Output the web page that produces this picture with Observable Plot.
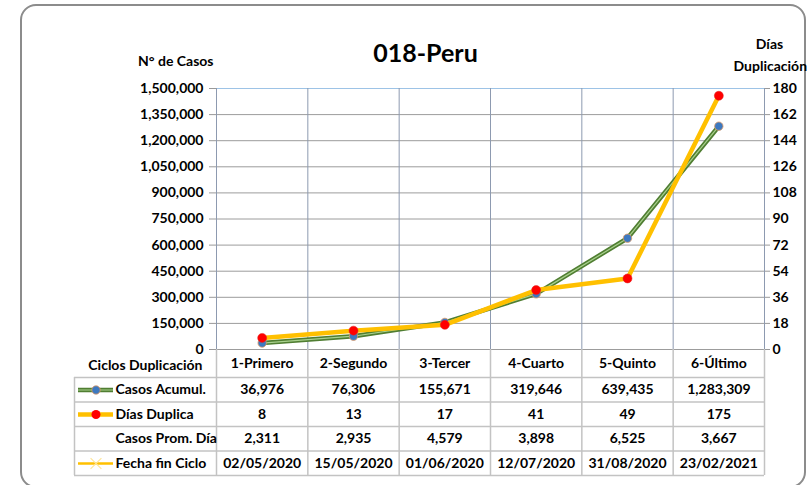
<!DOCTYPE html>
<html><head><meta charset="utf-8">
<script src="https://cdn.jsdelivr.net/npm/d3@7"></script>
<script src="https://cdn.jsdelivr.net/npm/@observablehq/plot@0.6"></script>
<style>
body{margin:0;background:#fff;}
#wrap{position:relative;width:810px;height:485px;overflow:hidden;}
#frame{position:absolute;left:20px;top:4px;width:782px;height:480px;border:2px solid #8c8c8c;border-radius:16px;}
#chart{position:absolute;left:0;top:0;}
#chart svg{overflow:visible;}
</style></head><body>
<div id="wrap"><div id="frame"></div><div id="chart"></div></div>
<script>
// ---- data ----
const categories = ["1-Primero","2-Segundo","3-Tercer","4-Cuarto","5-Quinto","6-Último"];
const casosAcumul = [36976, 76306, 155671, 319646, 639435, 1283309];
const diasDuplica = [8, 13, 17, 41, 49, 175];
const casosPromDia = [2311, 2935, 4579, 3898, 6525, 3667];
const fechaFinCiclo = ["02/05/2020","15/05/2020","01/06/2020","12/07/2020","31/08/2020","23/02/2021"];
const leftTicks = [0,150000,300000,450000,600000,750000,900000,1050000,1200000,1350000,1500000];
const rightTicks = [0,18,36,54,72,90,108,126,144,162,180];
const rowLabels = ["Casos Acumul.","Días Duplica","Casos Prom. Día","Fecha fin Ciclo"];
const title = "018-Peru";

// ---- layout ----
const W = 810, H = 485, mL = 216, mR = 46, mT = 88, mB = 136;
const yMax = 1500000, dMax = 180, k = yMax / dMax;
const plotH = H - mT - mB, colW = (W - mL - mR) / categories.length;
const yAt = py => (H - mB - py) * yMax / plotH;   // pixel row -> y units
const xAt = px => (px - mL) / colW;               // pixel col -> x units
const fmt = d3.format(",");
const xc = (d, i) => i + 0.5;

const pts = categories.map((c, i) => ({x: i + 0.5, casos: casosAcumul[i], dias: diasDuplica[i] * k}));
const tableLine = "#c3c3c3";
const rowCenters = [389.5, 414, 438.5, 463];
const rowLines = [377, 401.5, 426, 450.5, 475];
const green = "#507e32", greenIn = "#a9d18e", yellow = "#ffc000";

const chart = Plot.plot({
  width: W, height: H,
  marginLeft: mL, marginRight: mR, marginTop: mT, marginBottom: mB,
  style: {fontFamily: "Lato, 'Open Sans', sans-serif", fontSize: "14px", fontWeight: "bold", color: "#000", background: "transparent"},
  x: {domain: [0, categories.length], axis: null},
  y: {domain: [0, yMax]},
  marks: [
    // gridlines
    Plot.ruleY(leftTicks.slice(0, -1), {stroke: "#9c9c9c", strokeWidth: 1}),
    Plot.ruleY([yMax], {stroke: "#9dc3e6", strokeWidth: 1}),
    Plot.ruleX(d3.range(0, categories.length + 1), {y1: 0, y2: yMax, stroke: "#8d9ab0", strokeWidth: 1}),
    // table grid
    Plot.ruleX(d3.range(0, categories.length + 1), {y1: 0, y2: yAt(rowLines[4]), stroke: tableLine, strokeWidth: 1.5}),
    Plot.ruleX([xAt(74)], {y1: yAt(rowLines[0]), y2: yAt(rowLines[4]), stroke: tableLine, strokeWidth: 1.5}),
    Plot.ruleY(rowLines.map(yAt), {x1: xAt(74), x2: categories.length, stroke: tableLine, strokeWidth: 1.5}),
    // axes
    Plot.axisY(leftTicks, {anchor: "left", tickFormat: fmt, tickSize: 7, tickPadding: 6, stroke: "#999", fill: "#000", label: null}),
    Plot.axisY(rightTicks.map(d => d * k), {anchor: "right", tickFormat: d => Math.round(d / k), tickSize: 5, tickPadding: 3, stroke: "#999", fill: "#000", label: null}),
    // series
    Plot.line(pts, {x: "x", y: "casos", stroke: green, strokeWidth: 4.5}),
    Plot.line(pts, {x: "x", y: "casos", stroke: greenIn, strokeWidth: 1.2}),
    Plot.dot(pts, {x: "x", y: "casos", r: 4.2, fill: "#3d79c0", stroke: "#e39b62", strokeWidth: 0.8}),
    Plot.line(pts, {x: "x", y: "dias", stroke: yellow, strokeWidth: 4.5}),
    Plot.dot(pts, {x: "x", y: "dias", r: 4.5, fill: "#ff0000", stroke: "#e02020", strokeWidth: 0.5}),
    // legend swatches
    Plot.ruleY([yAt(rowCenters[0])], {x1: xAt(78), x2: xAt(113), stroke: green, strokeWidth: 4.5}),
    Plot.ruleY([yAt(rowCenters[0])], {x1: xAt(78), x2: xAt(113), stroke: greenIn, strokeWidth: 1.2}),
    Plot.dot([0], {x: xAt(95.5), y: yAt(rowCenters[0]), r: 4.2, fill: "#3d79c0", stroke: "#e39b62", strokeWidth: 0.8}),
    Plot.ruleY([yAt(rowCenters[1])], {x1: xAt(78), x2: xAt(113), stroke: yellow, strokeWidth: 4.5}),
    Plot.dot([0], {x: xAt(95.5), y: yAt(rowCenters[1]), r: 4.5, fill: "#ff0000"}),
    Plot.ruleY([yAt(rowCenters[3])], {x1: xAt(78), x2: xAt(113), stroke: yellow, strokeWidth: 2.5}),
    Plot.dot([0], {x: xAt(95.5), y: yAt(rowCenters[3]), r: 5, symbol: "times", stroke: "#ffe699", strokeWidth: 1.2}),
    // table texts
    Plot.text(categories, {x: xc, y: yAt(363), text: d => d}),
    Plot.text(["Ciclos Duplicación"], {x: xAt(202), y: yAt(365.5), textAnchor: "end"}),
    Plot.text(rowLabels, {x: xAt(115), y: (d, i) => yAt(rowCenters[i]), textAnchor: "start"}),
    Plot.text(casosAcumul, {x: xc, y: yAt(rowCenters[0]), text: d => fmt(d)}),
    Plot.text(diasDuplica, {x: xc, y: yAt(rowCenters[1]), text: d => fmt(d)}),
    Plot.text(casosPromDia, {x: xc, y: yAt(rowCenters[2]), text: d => fmt(d)}),
    Plot.text(fechaFinCiclo, {x: xc, y: yAt(rowCenters[3]), text: d => d}),
    // titles
    Plot.text([title], {x: xAt(425), y: yAt(53), fontSize: 25}),
    Plot.text(["N° de Casos"], {x: xAt(213), y: yAt(61), textAnchor: "end"}),
    Plot.text(["Días"], {x: xAt(769), y: yAt(44)}),
    Plot.text(["Duplicación"], {x: xAt(733), y: yAt(66), textAnchor: "start"})
  ]
});
document.getElementById("chart").appendChild(chart);
</script>
</body></html>
